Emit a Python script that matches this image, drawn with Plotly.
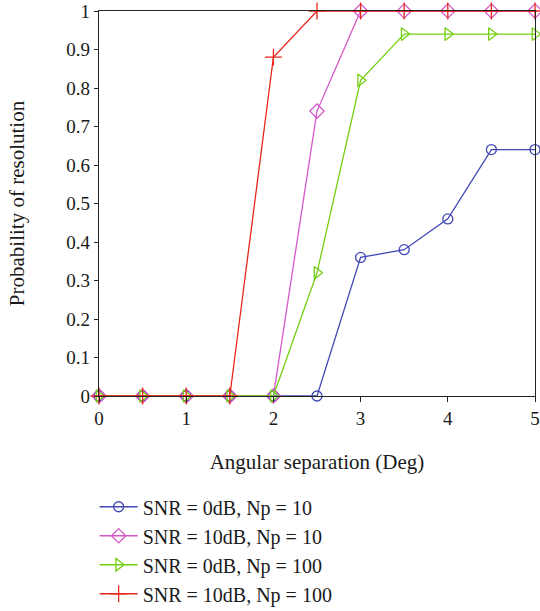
import plotly.graph_objects as go

x_vals = [0, 0.5, 1, 1.5, 2, 2.5, 3, 3.5, 4, 4.5, 5]
snr0_np10 = [0, 0, 0, 0, 0, 0, 0.36, 0.38, 0.46, 0.64, 0.64]
snr10_np10 = [0, 0, 0, 0, 0, 0.74, 1, 1, 1, 1, 1]
snr0_np100 = [0, 0, 0, 0, 0, 0.32, 0.82, 0.94, 0.94, 0.94, 0.94]
snr10_np100 = [0, 0, 0, 0, 0.88, 1, 1, 1, 1, 1, 1]

names = ["SNR = 0dB, Np = 10", "SNR = 10dB, Np = 10",
         "SNR = 0dB, Np = 100", "SNR = 10dB, Np = 100"]
series = [snr0_np10, snr10_np10, snr0_np100, snr10_np100]
colors = ["#4149b3", "#d457c8", "#74cf12", "#e8271c"]
symbols = ["circle-open", "diamond-open", "triangle-right-open", "cross-thin-open"]
sizes = [10, 11, 11, 12]

FONT = "Liberation Serif"
fig = go.Figure()
for name, ys, c, s, sz in zip(names, series, colors, symbols, sizes):
    fig.add_trace(go.Scatter(
        x=x_vals, y=ys, name=name, mode="lines+markers",
        line=dict(color=c, width=1.3),
        marker=dict(symbol=s, size=sz, color=c, line=dict(color=c, width=1.3)),
        cliponaxis=False,
    ))

fig.update_layout(
    width=540, height=611,
    margin=dict(l=99, r=5, t=11, b=215, autoexpand=False),
    plot_bgcolor="white", paper_bgcolor="white",
    font=dict(family=FONT, size=19, color="#1a1a1a"),
    showlegend=True,
    legend=dict(x=-0.01, y=-0.237, xanchor="left", yanchor="top",
                orientation="v", font=dict(family=FONT, size=20, color="#1a1a1a"),
                itemwidth=38, tracegroupgap=0, bgcolor="rgba(0,0,0,0)"),
    xaxis=dict(range=[0, 5], tickvals=[0, 1, 2, 3, 4, 5], showgrid=False,
               zeroline=False, showline=True, linecolor="#222", linewidth=1.3,
               mirror=True, ticks="outside", ticklen=5, tickcolor="#222",
               automargin=False,
               title=dict(text="Angular separation (Deg)", standoff=26,
                          font=dict(family=FONT, size=21))),
    yaxis=dict(range=[0, 1], tickvals=[i / 10 for i in range(11)],
               ticktext=["0", "0.1", "0.2", "0.3", "0.4", "0.5", "0.6", "0.7", "0.8", "0.9", "1"],
               showgrid=False, zeroline=False, showline=True, linecolor="#222",
               linewidth=1.3, mirror=True, ticks="outside", ticklen=4, tickcolor="#222",
               automargin=False,
               title=dict(text="Probability of resolution", standoff=35,
                          font=dict(family=FONT, size=21))),
)

fig.write_html("out.html")
